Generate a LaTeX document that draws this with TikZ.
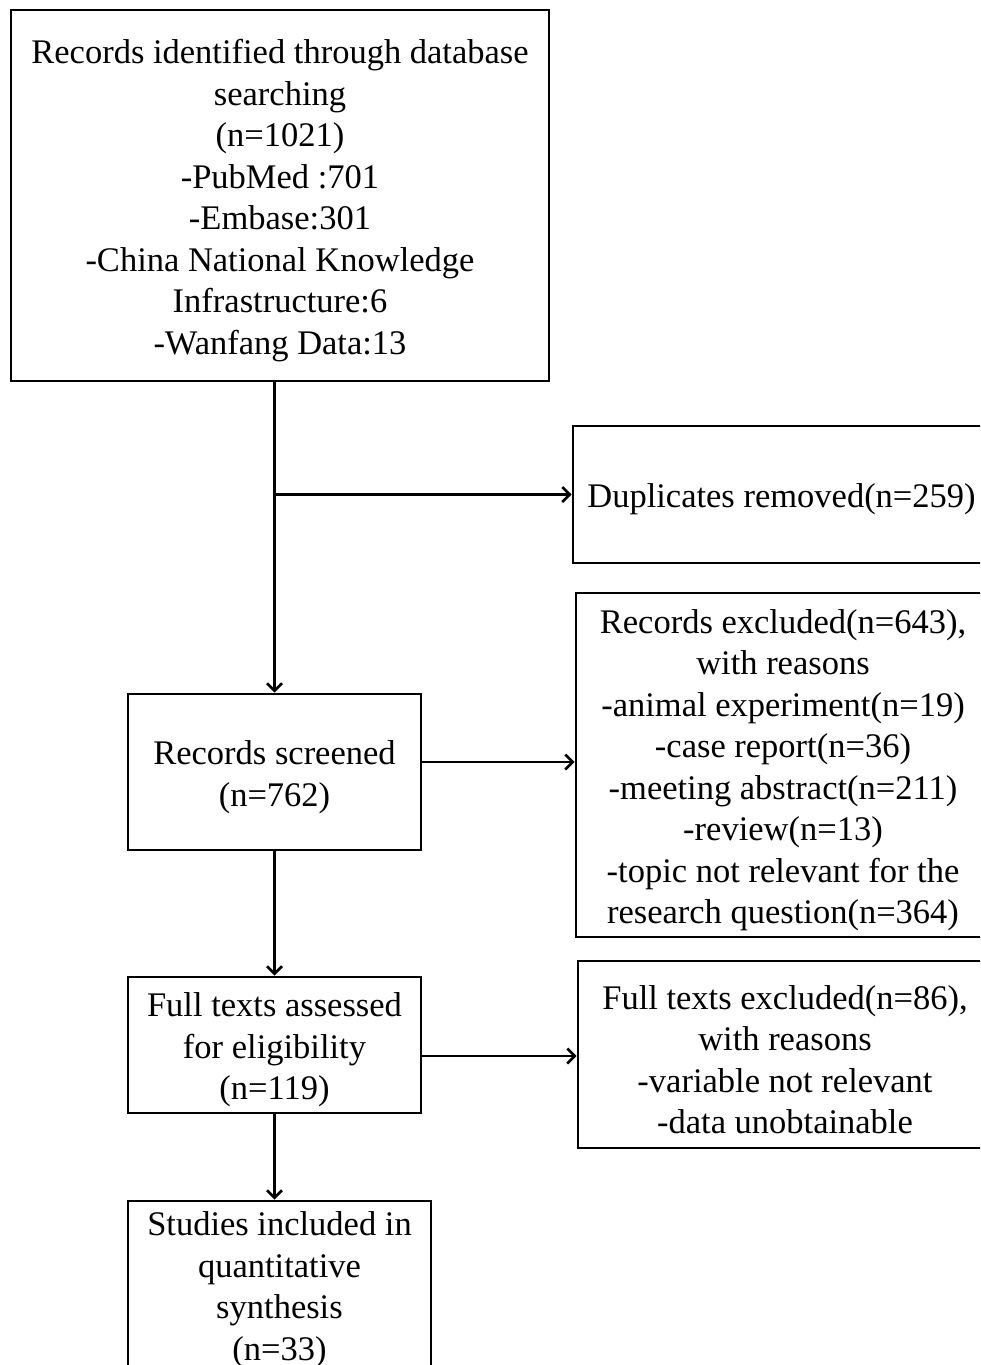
\documentclass[tikz,border=0pt]{standalone}
\usepackage{fontspec}
\setmainfont{Liberation Serif}
\usetikzlibrary{arrows.meta}
\begin{document}
\begin{tikzpicture}[x=1pt,y=-1pt,
  box/.style={draw, line width=2.7pt, rectangle, inner sep=0pt},
  lbl/.style={align=center, inner sep=0pt, yshift=-5pt,
              font=\fontsize{34.5}{41.5}\selectfont},
  arr/.style={line width=2.7pt, -{Straight Barb[length=7.5pt,width=15pt]}}]
\useasboundingbox (0,0) rectangle (980,1365);
\clip (0,0) rectangle (980,1365);
\node[box, minimum width=538pt, minimum height=371pt,
  label={[lbl]center:{Records identified through database\\searching\\(n=1021)\\-PubMed :701\\-Embase:301\\-China National Knowledge\\Infrastructure:6\\-Wanfang Data:13}}]
  (top) at (280,195.5) {};
\node[box, minimum width=417pt, minimum height=137pt,
  label={[lbl]center:{Duplicates removed(n=259)}}]
  (dup) at (781.5,494.5) {};
\node[box, minimum width=414pt, minimum height=344pt,
  label={[lbl]center:{Records excluded(n=643),\\with reasons\\-animal experiment(n=19)\\-case report(n=36)\\-meeting abstract(n=211)\\-review(n=13)\\-topic not relevant for the\\research question(n=364)}}]
  (exc) at (783,765) {};
\node[box, minimum width=293pt, minimum height=156pt,
  label={[lbl]center:{Records screened\\(n=762)}}]
  (scr) at (274.5,772) {};
\node[box, minimum width=293pt, minimum height=136pt,
  label={[lbl]center:{Full texts assessed\\for eligibility\\(n=119)}}]
  (full) at (274.5,1045) {};
\node[box, minimum width=414pt, minimum height=187pt,
  label={[lbl]center:{Full texts excluded(n=86),\\with reasons\\-variable not relevant\\-data unobtainable}}]
  (fexc) at (785,1054.5) {};
\node[box, minimum width=303pt, minimum height=171pt,
  label={[lbl,yshift=2pt]center:{Studies included in\\quantitative\\synthesis\\(n=33)}}]
  (stud) at (279.5,1286.5) {};
\draw[arr] (scr.north |- top.south) -- (scr.north);
\coordinate (j) at (scr.north |- dup.west);
\draw[arr] (j) -- (dup.west);
\coordinate (s1) at ([yshift=10pt]scr.east);
\draw[arr] (s1) -- (s1 -| exc.west);
\draw[arr] (scr.south) -- (full.north);
\coordinate (f1) at ([yshift=-11pt]full.east);
\draw[arr] (f1) -- (f1 -| fexc.west);
\draw[arr] (full.south) -- (full.south |- stud.north);
\end{tikzpicture}
\end{document}
